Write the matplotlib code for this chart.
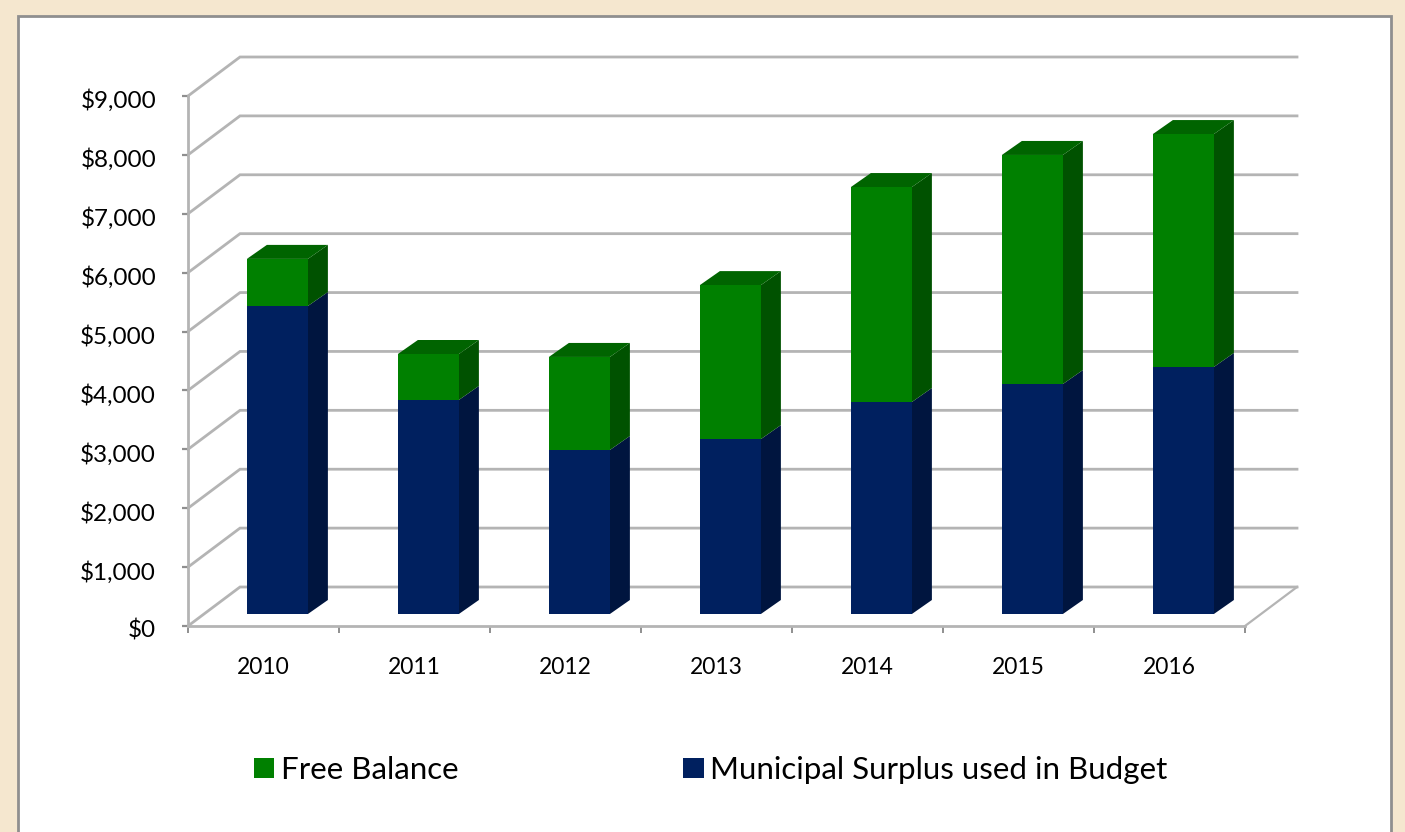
import numpy as np
import matplotlib.pyplot as plt
from matplotlib.patches import Patch, Polygon, Rectangle
from matplotlib.ticker import FuncFormatter
from matplotlib.transforms import ScaledTranslation

plt.rcParams['font.family'] = ['Lato', 'DejaVu Sans']

years = ["2010", "2011", "2012", "2013", "2014", "2015", "2016"]
surplus = np.array([5230, 3635, 2785, 2970, 3600, 3905, 4195])
free_balance = np.array([800, 780, 1580, 2615, 3650, 3890, 3955])

W, H = 1405, 832
fig = plt.figure(figsize=(W / 100, H / 100), dpi=100, facecolor="#f5e7cf")
fig.add_artist(Rectangle((18 / W, -0.02), 1373 / W, 1.0 - 16 / H + 0.02, transform=fig.transFigure,
                         facecolor="white", edgecolor="#8f8f8f", linewidth=2, zorder=-1))

# axes is the front plane of the fake 3d box
ax = fig.add_axes([188 / W, 1 - 626 / H, 1057 / W, 530 / H])
ax.patch.set_alpha(0)
ax.set_xlim(0, 7)
ax.set_ylim(0, 9000)

# depth offset in data units
dx = 52 / 151
dy = 39 / 530 * 9000
grid_c = "#b4b4b4"

for v in range(0, 10000, 1000):
    ax.plot([0, dx, 7 + dx], [v, v + dy, v + dy], color=grid_c, lw=2.0, clip_on=False, zorder=1,
            solid_joinstyle="miter")
ax.plot([7, 7 + dx], [0, dy], color=grid_c, lw=1.6, clip_on=False, zorder=1)

x0 = np.arange(7) + 0.39
w = 0.404
base = 12 / 530 * 9000
sx = 20 / 151
sy = 14 / 530 * 9000

def side(ax, x, lo, hi, color):
    ax.add_patch(Polygon([(x, lo), (x + sx, lo + sy), (x + sx, hi + sy), (x, hi)], closed=True,
                         facecolor=color, edgecolor="none", clip_on=False, zorder=3))

def top(ax, x, y, color):
    ax.add_patch(Polygon([(x, y), (x + sx, y + sy), (x + w + sx, y + sy), (x + w, y)], closed=True,
                         facecolor=color, edgecolor="none", clip_on=False, zorder=3))

ax.bar(x0, surplus, w, bottom=base, align="edge", color="#00205f", zorder=4)
ax.bar(x0, free_balance, w, bottom=base + surplus, align="edge", color="#008000", zorder=4)
for i in range(7):
    side(ax, x0[i] + w, base, base + surplus[i], "#00153f")
    side(ax, x0[i] + w, base + surplus[i], base + surplus[i] + free_balance[i], "#005200")
    top(ax, x0[i], base + surplus[i] + free_balance[i], "#006400")

for s in ["top", "right"]:
    ax.spines[s].set_visible(False)
for s in ["left", "bottom"]:
    ax.spines[s].set_color(grid_c)
    ax.spines[s].set_linewidth(2.0)
    ax.spines[s].set_zorder(2)

ax.set_yticks(np.arange(0, 10000, 1000))
ax.yaxis.set_major_formatter(FuncFormatter(lambda v, p: "${:,.0f}".format(v)))
ax.tick_params(axis="y", direction="out", length=4, width=1.6, color="#8f8f8f", labelsize=17.5,
               labelcolor="black", pad=19)
for lab in ax.get_yticklabels():
    lab.set_transform(lab.get_transform() + ScaledTranslation(0, -0.03, fig.dpi_scale_trans))
ax.set_xticks(np.arange(8))
ax.set_xticklabels([])
ax.set_xticks(np.arange(7) + 0.5, years, minor=True)
ax.tick_params(axis="x", which="major", direction="out", length=5, width=1.4, color="#8f8f8f")
ax.tick_params(axis="x", which="minor", length=0, labelsize=16.5, labelcolor="black", pad=22)

handles = [Patch(facecolor="#008000", label="Free Balance"),
           Patch(facecolor="#00205f", label="Municipal Surplus used in Budget")]
fig.legend(handles=handles, loc="center left", bbox_to_anchor=(226 / W, 1 - 770 / H), ncol=2, frameon=False,
           fontsize=22.5, handlelength=0.65, handleheight=0.65, handletextpad=0.2, columnspacing=7.2)

plt.savefig("out.png", dpi=100, facecolor=fig.get_facecolor())
